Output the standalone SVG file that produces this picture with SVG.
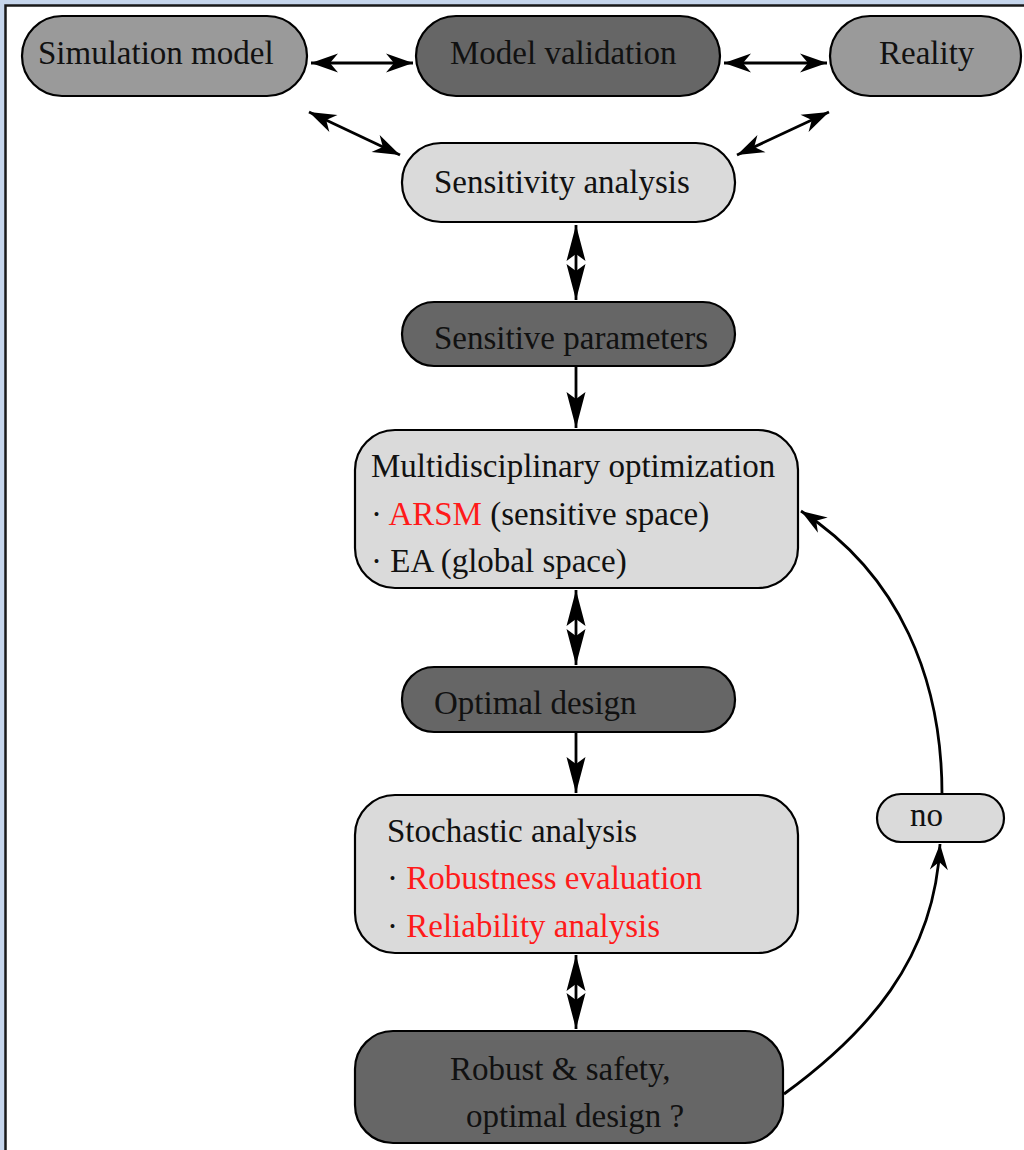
<svg xmlns="http://www.w3.org/2000/svg" width="1024" height="1150" viewBox="0 0 1024 1150">
  <defs>
    <style>
      .node { stroke: #000; stroke-width: 2.2; }
      .mid { fill: #9a9a9a; }
      .dark { fill: #666666; }
      .light { fill: #dadada; }
      .lbl { font-family: "Liberation Serif", "Times New Roman", serif; font-size: 33px; fill: #111; }
      .red { fill: #ff1a1a; }
      .conn { stroke: #000; stroke-width: 2.8; fill: none; }
    </style>
    <marker id="ah" viewBox="-32 -12 34 24" refX="0" refY="0" markerWidth="34" markerHeight="24" markerUnits="userSpaceOnUse" orient="auto-start-reverse">
      <path d="M0,0 L-27,-9.5 L-19,0 L-27,9.5 Z" fill="#000"/>
    </marker>
    <marker id="ahl" viewBox="-40 -12 42 24" refX="0" refY="0" markerWidth="42" markerHeight="24" markerUnits="userSpaceOnUse" orient="auto-start-reverse">
      <path d="M0,0 L-36,-9.5 L-29,0 L-36,9.5 Z" fill="#000"/>
    </marker>
    <marker id="ahs" viewBox="-32 -12 34 24" refX="0" refY="0" markerWidth="34" markerHeight="24" markerUnits="userSpaceOnUse" orient="auto">
      <path d="M0,0 L-26,-9 L-18,0 L-26,9 Z" fill="#000"/>
    </marker>
  </defs>

  <rect x="0" y="0" width="1024" height="1150" fill="#c6d6ec"/>
  <rect x="5.5" y="5.5" width="1030" height="1160" fill="#ffffff" stroke="#1a1a1a" stroke-width="2.5"/>

  <g id="connectors">
    <line class="conn" x1="311" y1="63" x2="413" y2="63" marker-start="url(#ah)" marker-end="url(#ah)"/>
    <line class="conn" x1="724" y1="63" x2="827" y2="63" marker-start="url(#ah)" marker-end="url(#ah)"/>
    <line class="conn" x1="309" y1="112" x2="400" y2="155" marker-start="url(#ah)" marker-end="url(#ah)"/>
    <line class="conn" x1="737" y1="155" x2="829" y2="112" marker-start="url(#ah)" marker-end="url(#ah)"/>
    <line class="conn" x1="576" y1="225" x2="576" y2="300" marker-start="url(#ahl)" marker-end="url(#ahl)"/>
    <line class="conn" x1="576" y1="367" x2="576" y2="428" marker-end="url(#ahl)"/>
    <line class="conn" x1="576" y1="590" x2="576" y2="665" marker-start="url(#ahl)" marker-end="url(#ahl)"/>
    <line class="conn" x1="576" y1="733" x2="576" y2="793" marker-end="url(#ahl)"/>
    <line class="conn" x1="576" y1="955" x2="576" y2="1029" marker-start="url(#ahl)" marker-end="url(#ahl)"/>
    <path class="conn" d="M784,1094 C865,1035 935,960 940,844" marker-end="url(#ahs)"/>
    <path class="conn" d="M942,794 C942,680 900,575 801,511" marker-end="url(#ahs)"/>
  </g>

  <g id="simulation-model">
    <rect class="node mid" x="22" y="16" width="285" height="80" rx="40"/>
    <text class="lbl" x="38" y="64">Simulation model</text>
  </g>
  <g id="model-validation">
    <rect class="node dark" x="416" y="16" width="304" height="80" rx="40"/>
    <text class="lbl" x="450" y="64">Model validation</text>
  </g>
  <g id="reality">
    <rect class="node mid" x="830" y="16" width="191" height="80" rx="40"/>
    <text class="lbl" x="879" y="64">Reality</text>
  </g>
  <g id="sensitivity-analysis">
    <rect class="node light" x="402" y="143" width="333" height="79" rx="39"/>
    <text class="lbl" x="434" y="193">Sensitivity analysis</text>
  </g>
  <g id="sensitive-parameters">
    <rect class="node dark" x="402" y="302" width="333" height="64" rx="32"/>
    <text class="lbl" x="434" y="349">Sensitive parameters</text>
  </g>
  <g id="multidisciplinary-optimization">
    <rect class="node light" x="355" y="430" width="443" height="158" rx="40"/>
    <text class="lbl" x="371" y="477">Multidisciplinary optimization</text>
    <text class="lbl" x="371" y="525">· <tspan class="red">ARSM</tspan> (sensitive space)</text>
    <text class="lbl" x="371" y="572">· EA (global space)</text>
  </g>
  <g id="optimal-design">
    <rect class="node dark" x="402" y="667" width="333" height="65" rx="32"/>
    <text class="lbl" x="434" y="714">Optimal design</text>
  </g>
  <g id="stochastic-analysis">
    <rect class="node light" x="355" y="795" width="443" height="158" rx="40"/>
    <text class="lbl" x="387" y="842">Stochastic analysis</text>
    <text class="lbl" x="387" y="889">· <tspan class="red">Robustness evaluation</tspan></text>
    <text class="lbl" x="387" y="937">· <tspan class="red">Reliability analysis</tspan></text>
  </g>
  <g id="robust-safety">
    <rect class="node dark" x="355" y="1031" width="428" height="112" rx="38"/>
    <text class="lbl" x="450" y="1080">Robust &amp; safety,</text>
    <text class="lbl" x="466" y="1127">optimal design ?</text>
  </g>
  <g id="no">
    <rect class="node light" x="877" y="794" width="127" height="48" rx="24"/>
    <text class="lbl" x="910" y="826">no</text>
  </g>
</svg>
